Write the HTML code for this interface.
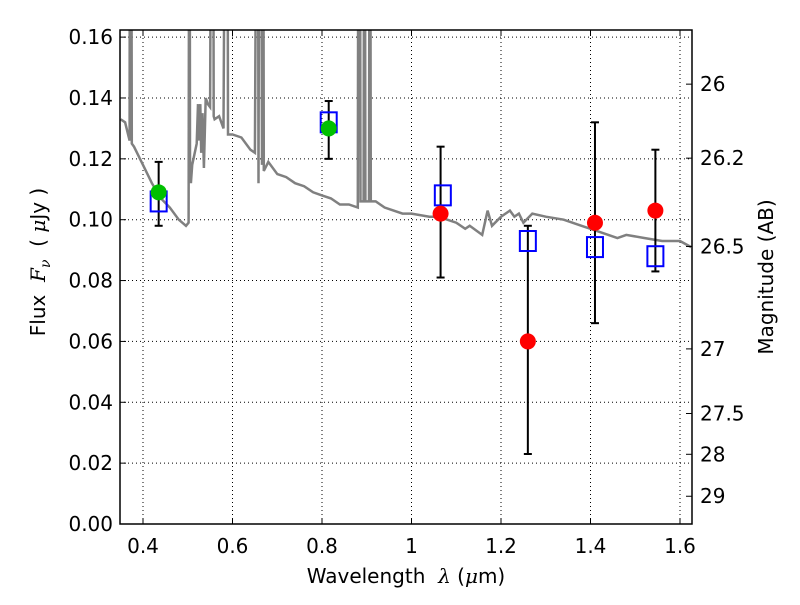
<!DOCTYPE html>
<html><head><meta charset="utf-8"><style>
body{margin:0;background:#fff}
svg{font-family:"DejaVu Sans","Liberation Sans",sans-serif}
</style></head><body>
<svg id="c" width="800" height="600"></svg>
<script>
const specL=[0.35,0.36,0.37,0.371,0.373,0.375,0.38,0.40,0.42,0.44,0.46,0.48,0.496,0.502,0.504,0.505,0.507,0.51,0.52,0.523,0.525,0.528,0.53,0.533,0.536,0.54,0.545,0.55,0.554,0.556,0.558,0.56,0.57,0.58,0.586,0.588,0.59,0.60,0.62,0.64,0.65,0.656,0.658,0.661,0.663,0.666,0.668,0.67,0.68,0.70,0.72,0.74,0.76,0.78,0.80,0.82,0.84,0.86,0.88,0.882,0.884,0.886,0.893,0.895,0.897,0.905,0.907,0.909,0.92,0.94,0.96,0.98,1.0,1.04,1.06,1.08,1.10,1.12,1.13,1.158,1.17,1.18,1.2,1.22,1.23,1.24,1.25,1.27,1.30,1.34,1.38,1.40,1.44,1.46,1.48,1.52,1.56,1.6,1.625];
const specF=[0.133,0.132,0.126,0.3,0.3,0.125,0.124,0.118,0.112,0.107,0.104,0.100,0.098,0.099,0.3,0.12,0.112,0.118,0.125,0.138,0.126,0.138,0.122,0.135,0.117,0.140,0.138,0.137,0.3,0.3,0.134,0.133,0.134,0.130,0.3,0.3,0.128,0.128,0.127,0.123,0.122,0.3,0.112,0.3,0.3,0.118,0.3,0.116,0.119,0.115,0.114,0.112,0.111,0.109,0.108,0.107,0.105,0.105,0.104,0.3,0.3,0.106,0.106,0.3,0.106,0.106,0.3,0.106,0.106,0.104,0.103,0.102,0.102,0.101,0.101,0.100,0.099,0.097,0.098,0.095,0.103,0.098,0.101,0.103,0.101,0.102,0.099,0.102,0.101,0.100,0.098,0.097,0.095,0.094,0.095,0.094,0.093,0.093,0.091];
const greenL=[0.435,0.815], greenF=[0.109,0.130];
const redL=[1.065,1.26,1.41,1.545], redF=[0.102,0.060,0.099,0.103];
const sqL=[0.435,0.815,1.07,1.26,1.41,1.545], sqF=[0.106,0.132,0.108,0.093,0.091,0.088];
const errL=[0.435,0.815,1.065,1.26,1.41,1.545], errLo=[0.098,0.120,0.081,0.023,0.066,0.083], errHi=[0.119,0.139,0.124,0.098,0.132,0.123];
const xTicks=[0.4,0.6,0.8,1.0,1.2,1.4,1.6], xTickLabels=["0.4","0.6","0.8","1","1.2","1.4","1.6"];
const yTicks=[0,0.02,0.04,0.06,0.08,0.10,0.12,0.14,0.16], yTickLabels=["0.00","0.02","0.04","0.06","0.08","0.10","0.12","0.14","0.16"];
const magTicks=[26,26.2,26.5,27,27.5,28,29], magLabels=["26","26.2","26.5","27","27.5","28","29"];
const L=120,R=692,T=30,B=524;
const X=v=>143+(v-0.4)*447.5, Y=v=>B-v*3043;
const svg=document.getElementById('c');const NS='http://www.w3.org/2000/svg';
function mk(t,a,p){const e=document.createElementNS(NS,t);for(const k in a)e.setAttribute(k,a[k]);(p||svg).appendChild(e);return e;}
const defs=mk('defs',{});const cp=mk('clipPath',{id:'cp'},defs);mk('rect',{x:L,y:T,width:R-L,height:B-T},cp);
const grid=mk('g',{stroke:'#000','stroke-width':1,'stroke-dasharray':'1,3'});

xTicks.forEach(v=>{mk('line',{x1:X(v),x2:X(v),y1:T,y2:B},grid);});
yTicks.forEach(v=>{mk('line',{x1:L,x2:R,y1:Y(v),y2:Y(v)},grid);});
const g=mk('g',{'clip-path':'url(#cp)'});
let d=specL.map((l,i)=>(i?'L':'M')+X(l).toFixed(1)+','+Y(specF[i]).toFixed(1)).join('');
const sp=mk('path',{d:d,fill:'none',stroke:'#808080','stroke-width':2.5},g);

errL.forEach((l,i)=>{const e=mk('g',{stroke:'#000','stroke-width':2},g);

mk('line',{x1:X(l),x2:X(l),y1:Y(errLo[i]),y2:Y(errHi[i])},e);
mk('line',{x1:X(l)-4,x2:X(l)+4,y1:Y(errLo[i]),y2:Y(errLo[i])},e);
mk('line',{x1:X(l)-4,x2:X(l)+4,y1:Y(errHi[i]),y2:Y(errHi[i])},e);});
sqL.forEach((l,i)=>{const s=mk('rect',{x:X(l)-8,y:Y(sqF[i])-10,width:16,height:20,fill:'none',stroke:'#0000ff','stroke-width':2},g);
});
greenL.forEach((l,i)=>{const c=mk('circle',{cx:X(l),cy:Y(greenF[i]),r:8,fill:'#00c000'},g);
});
redL.forEach((l,i)=>{const c=mk('circle',{cx:X(l),cy:Y(redF[i]),r:8,fill:'#ff0000'},g);
});
const fr=mk('rect',{x:L,y:T,width:R-L,height:B-T,fill:'none',stroke:'#000','stroke-width':1.5});

xTicks.forEach((v,i)=>{mk('line',{x1:X(v),x2:X(v),y1:B,y2:B-6,stroke:'#000'});mk('line',{x1:X(v),x2:X(v),y1:T,y2:T+6,stroke:'#000'});
const t=mk('text',{x:X(v),y:553,'font-size':20,'text-anchor':'middle'});t.textContent=xTickLabels[i];
});
yTicks.forEach((v,i)=>{mk('line',{x1:L,x2:L+6,y1:Y(v),y2:Y(v),stroke:'#000'});
const t=mk('text',{x:113,y:Y(v)+7,'font-size':20,'text-anchor':'end'});t.textContent=yTickLabels[i];
});
magTicks.forEach((m,i)=>{const f=Math.pow(10,(23.9-m)/2.5);const y=Y(f);
mk('line',{x1:R,x2:R-6,y1:y,y2:y,stroke:'#000'});
const t=mk('text',{x:700,y:y+7,'font-size':20});t.textContent=magLabels[i];
});
let t=mk('text',{x:406,y:583,'font-size':20,'text-anchor':'middle'});t.innerHTML='Wavelength &#160;<tspan font-style="italic" font-family="DejaVu Serif,serif">λ</tspan> (<tspan font-style="italic" font-family="DejaVu Serif,serif">μ</tspan>m)';

t=mk('text',{x:0,y:0,'font-size':20,'text-anchor':'middle',transform:'translate(45,262) rotate(-90)'});t.innerHTML='Flux &#160;<tspan font-style="italic" font-family="DejaVu Serif,serif">F</tspan><tspan font-style="italic" font-size="14" dy="5" font-family="DejaVu Serif,serif">ν</tspan><tspan dy="-5"> &#160;( </tspan><tspan font-style="italic" font-family="DejaVu Serif,serif">μ</tspan>Jy )';

t=mk('text',{x:0,y:0,'font-size':20,'text-anchor':'middle',transform:'translate(773,277) rotate(-90)'});t.textContent='Magnitude (AB)';

</script>
</body></html>
